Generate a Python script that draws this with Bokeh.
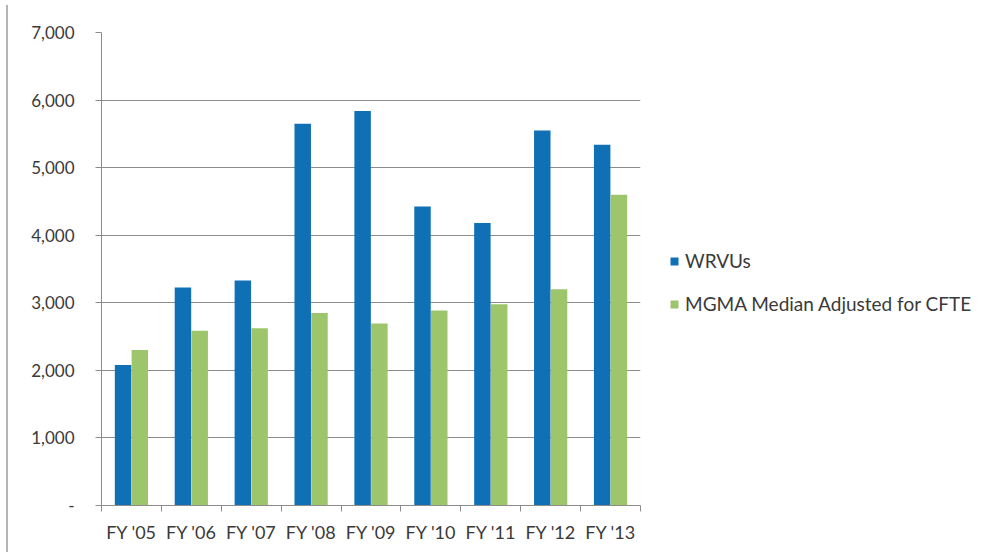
import numpy as np
from bokeh.plotting import figure
from bokeh.models import (ColumnDataSource, Range1d, LinearAxis, FixedTicker,
                          NumeralTickFormatter, Legend, LegendItem, Div)
from bokeh.layouts import row
from bokeh.embed import file_html
from bokeh.resources import INLINE

categories = ["FY '05", "FY '06", "FY '07", "FY '08", "FY '09", "FY '10", "FY '11", "FY '12", "FY '13"]
wrvus = [2080, 3225, 3330, 5650, 5840, 4425, 4180, 5550, 5340]
mgma = [2300, 2585, 2625, 2850, 2695, 2885, 2980, 3200, 4600]
series_names = ["WRVUs", "MGMA Median Adjusted for CFTE"]
y_ticks = [0, 1000, 2000, 3000, 4000, 5000, 6000, 7000]

BLUE = "#1070b6"
GREEN = "#9cc56c"
GRID = "#8c8c8c"
TXT = "#3a3a3a"
FONT = "Lato"

n = len(categories)
centers = np.arange(n) + 0.5
bounds = list(range(n + 1))
src = ColumnDataSource(dict(x1=centers - 0.14, x2=centers + 0.14, wrvus=wrvus, mgma=mgma))

p = figure(x_range=Range1d(0, n), y_range=Range1d(0, 7000),
           frame_width=539, frame_height=473, min_border_left=88, min_border_top=32,
           min_border_bottom=20, min_border_right=10,
           output_backend="svg", toolbar_location=None, x_axis_location=None)
p.outline_line_color = None
p.background_fill_color = "white"
p.border_fill_color = "white"

r1 = p.vbar(x="x1", top="wrvus", width=0.275, source=src, fill_color=BLUE, line_color=None)
r2 = p.vbar(x="x2", top="mgma", width=0.275, source=src, fill_color=GREEN, line_color=None)

# grid
p.xgrid.grid_line_color = None
p.ygrid.grid_line_color = GRID
p.ygrid.grid_line_width = 1
p.ygrid.ticker = FixedTicker(ticks=y_ticks)

# y axis
ya = p.yaxis[0]
ya.ticker = FixedTicker(ticks=y_ticks)
ya.formatter = NumeralTickFormatter(format="0,0")
ya.major_label_overrides = {0: "-"}
ya.axis_line_color = GRID
ya.major_tick_line_color = GRID
ya.major_tick_out = 6
ya.major_tick_in = 0
ya.minor_tick_line_color = None
ya.major_label_standoff = 21
ya.major_label_text_font = FONT
ya.major_label_text_font_size = "17px"
ya.major_label_text_color = TXT

# x axis: labels at category centers, ticks at category boundaries
xa = LinearAxis(ticker=FixedTicker(ticks=list(centers), minor_ticks=bounds))
xa.major_label_overrides = {float(c): lab for c, lab in zip(centers, categories)}
xa.axis_line_color = GRID
xa.major_tick_line_color = None
xa.major_tick_out = 0
xa.major_tick_in = 0
xa.minor_tick_line_color = GRID
xa.minor_tick_out = 6
xa.minor_tick_in = 0
xa.major_label_standoff = 9
xa.major_label_text_font = FONT
xa.major_label_text_font_size = "18px"
xa.major_label_text_color = TXT
p.add_layout(xa, "below")

legend = Legend(items=[LegendItem(label=series_names[0], renderers=[r1]),
                       LegendItem(label=series_names[1], renderers=[r2])],
                location=(29, 190), orientation="vertical")
legend.border_line_color = None
legend.background_fill_alpha = 0
legend.glyph_width = 10
legend.glyph_height = 10
legend.label_text_font = FONT
legend.label_text_font_size = "19px"
legend.label_text_color = TXT
legend.label_standoff = 6
legend.spacing = 20
legend.padding = 0
legend.margin = 0
p.add_layout(legend, "right")

edge = Div(width=3, height=552, styles={"border-right": "2px solid #b4b4b4", "box-sizing": "border-box"})

layout = row(edge, p)
open("out.html", "w").write(file_html(layout, INLINE))
